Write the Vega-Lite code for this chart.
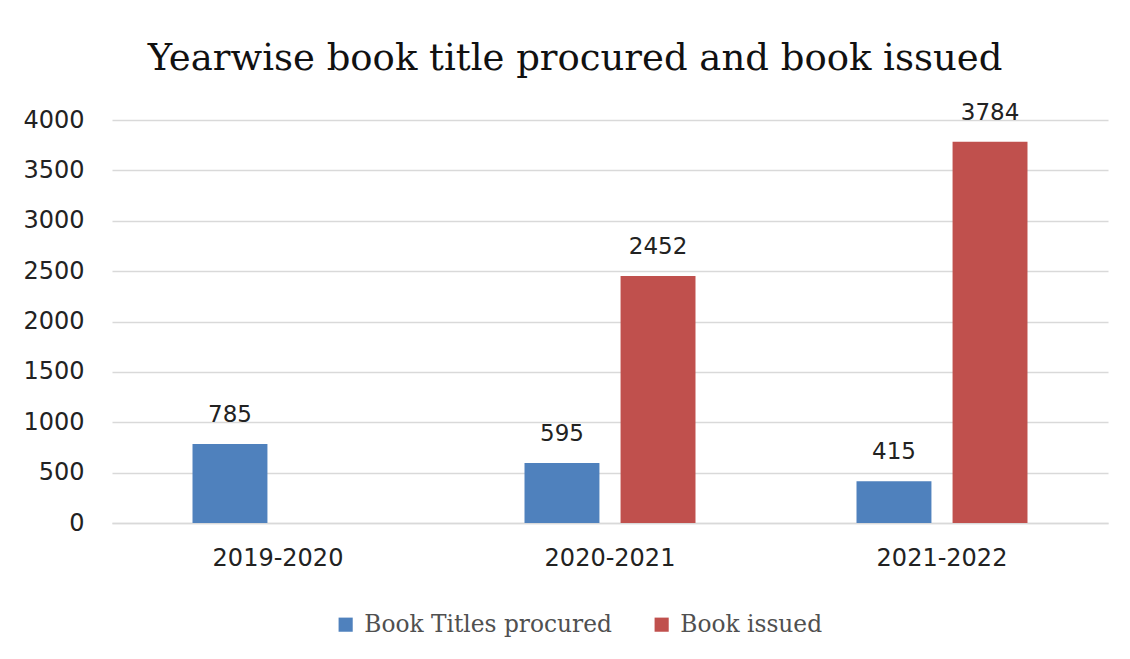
{
  "$schema": "https://vega.github.io/schema/vega-lite/v6.json",
  "width": 996,
  "height": 403,
  "autosize": {"type": "none"},
  "padding": {"left": 112, "top": 120, "right": 22, "bottom": 136},
  "background": "white",
  "title": {
    "text": "Yearwise book title procured and book issued",
    "font": "DejaVu Serif",
    "fontSize": 37,
    "fontWeight": "normal",
    "color": "#111111",
    "anchor": "middle",
    "dx": -35,
    "offset": 24
  },
  "config": {
    "view": {"stroke": null}
  },
  "data": {
    "values": [
      {"year": "2019-2020", "series": "Book Titles procured", "value": 785},
      {"year": "2020-2021", "series": "Book Titles procured", "value": 595},
      {"year": "2020-2021", "series": "Book issued", "value": 2452},
      {"year": "2021-2022", "series": "Book Titles procured", "value": 415},
      {"year": "2021-2022", "series": "Book issued", "value": 3784}
    ]
  },
  "encoding": {
    "x": {
      "field": "year",
      "type": "nominal",
      "scale": {"paddingInner": 0.485, "paddingOuter": 0.2425},
      "axis": {
        "title": null,
        "labelAngle": 0,
        "labelFont": "DejaVu Sans",
        "labelFontSize": 24,
        "labelColor": "#222222",
        "labelPadding": 23,
        "ticks": false,
        "domainColor": "#d9d9d9",
        "domainWidth": 1.5
      }
    },
    "xOffset": {
      "field": "series",
      "type": "nominal",
      "sort": ["Book Titles procured", "Book issued"],
      "scale": {"paddingInner": 0.22}
    },
    "y": {
      "field": "value",
      "type": "quantitative",
      "scale": {"domain": [0, 4000]},
      "axis": {
        "title": null,
        "format": "d",
        "values": [0, 500, 1000, 1500, 2000, 2500, 3000, 3500, 4000],
        "labelFont": "DejaVu Sans",
        "labelFontSize": 24,
        "labelColor": "#222222",
        "labelPadding": 28,
        "ticks": false,
        "domain": false,
        "gridColor": "#d9d9d9",
        "gridWidth": 1.5
      }
    }
  },
  "layer": [
    {
      "mark": {"type": "bar"},
      "encoding": {
        "color": {
          "field": "series",
          "type": "nominal",
          "scale": {"domain": ["Book Titles procured", "Book issued"], "range": ["#4f81bd", "#c0504d"]},
          "legend": {
            "title": null,
            "orient": "none",
            "direction": "horizontal",
            "legendX": 222,
            "legendY": 493,
            "symbolType": "square",
            "symbolSize": 200,
            "symbolStrokeWidth": 0,
            "labelFont": "DejaVu Serif",
            "labelFontSize": 23.3,
            "labelColor": "#505050",
            "labelLimit": 400,
            "labelOffset": 7,
            "columnPadding": 38
          }
        }
      }
    },
    {
      "mark": {"type": "text", "baseline": "alphabetic", "dy": -22, "font": "DejaVu Sans", "fontSize": 23, "color": "#222222"},
      "encoding": {
        "text": {"field": "value", "type": "quantitative"}
      }
    }
  ]
}
